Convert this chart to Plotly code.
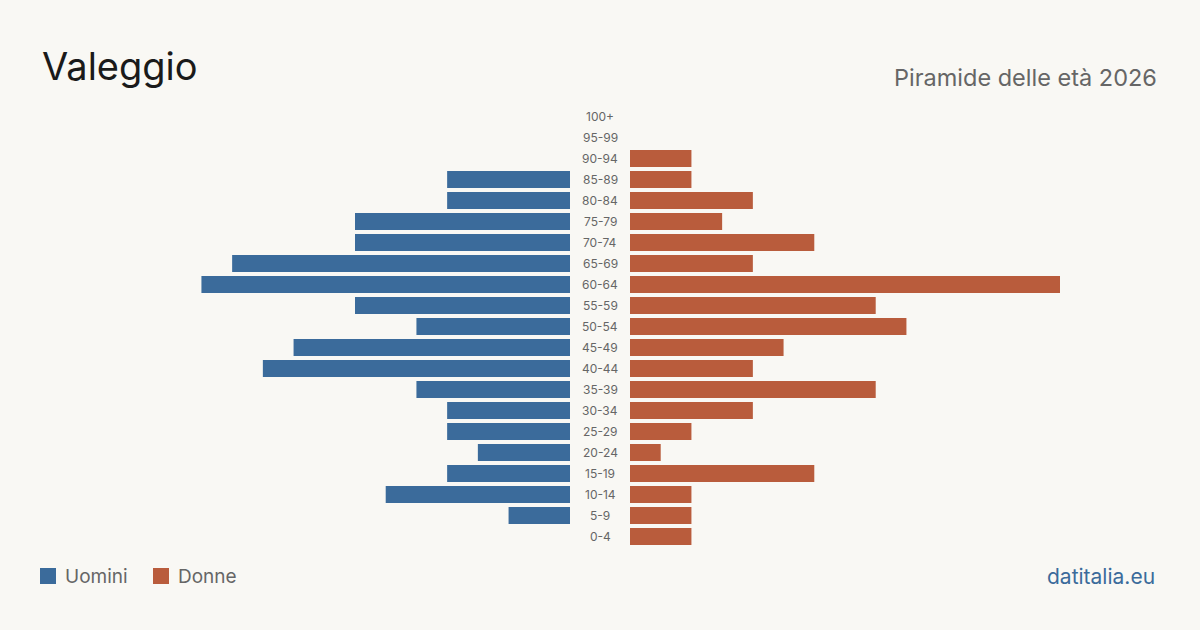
import plotly.graph_objects as go

age_groups = ["0-4", "5-9", "10-14", "15-19", "20-24", "25-29", "30-34", "35-39",
              "40-44", "45-49", "50-54", "55-59", "60-64", "65-69", "70-74",
              "75-79", "80-84", "85-89", "90-94", "95-99", "100+"]
men = [0, 2, 6, 4, 3, 4, 4, 5, 10, 9, 5, 7, 12, 11, 7, 7, 4, 4, 0, 0, 0]
women = [2, 2, 2, 6, 1, 2, 4, 8, 4, 5, 9, 8, 14, 4, 6, 3, 4, 2, 2, 0, 0]

BLUE = "#3b6b9b"
ORANGE = "#b95c3c"
BG = "#f9f8f4"
FONT = "Inter"

xmax = max(max(men), max(women))

fig = go.Figure()
fig.add_trace(go.Bar(y=age_groups, x=men, orientation="h", marker_color=BLUE,
                     marker_line_width=0,
                     xaxis="x", yaxis="y", name="Uomini", showlegend=False,
                     hoverinfo="x+y"))
fig.add_trace(go.Bar(y=age_groups, x=women, orientation="h", marker_color=ORANGE,
                     marker_line_width=0,
                     xaxis="x2", yaxis="y", name="Donne", showlegend=False,
                     hoverinfo="x+y"))

W, H = 1200, 630
top, bottom = 106, 547

fig.update_layout(
    width=W, height=H,
    paper_bgcolor=BG, plot_bgcolor=BG,
    margin=dict(l=0, r=0, t=0, b=0),
    bargap=0.19,
    font=dict(family=FONT),
    xaxis=dict(domain=[140 / W, 570 / W], range=[xmax, 0], visible=False, fixedrange=True),
    xaxis2=dict(domain=[630 / W, 1060 / W], range=[0, xmax], visible=False, fixedrange=True),
    yaxis=dict(domain=[1 - bottom / H, 1 - top / H], visible=False,
               categoryorder="array", categoryarray=age_groups, fixedrange=True),
)

for ag in age_groups:
    fig.add_annotation(x=0.5, xref="paper", y=ag, yref="y", text=ag, showarrow=False,
                       font=dict(size=12, color="#666666", family=FONT),
                       xanchor="center", yanchor="middle")

fig.add_annotation(x=40 / W, y=1 - 66 / H, xref="paper", yref="paper", text="Valeggio",
                   showarrow=False, xanchor="left", yanchor="middle",
                   font=dict(size=38, color="#1a1a1a", family=FONT))
fig.add_annotation(x=1159 / W, y=1 - 77 / H, xref="paper", yref="paper",
                   text="Piramide delle età 2026", showarrow=False,
                   xanchor="right", yanchor="middle",
                   font=dict(size=23.5, color="#666666", family=FONT))

# legend
fig.add_shape(type="rect", xref="paper", yref="paper",
              x0=40 / W, x1=56 / W, y0=1 - 584 / H, y1=1 - 568 / H,
              fillcolor=BLUE, line_width=0)
fig.add_annotation(x=63 / W, y=1 - 576 / H, xref="paper", yref="paper", text="Uomini",
                   showarrow=False, xanchor="left", yanchor="middle",
                   font=dict(size=19, color="#666666", family=FONT))
fig.add_shape(type="rect", xref="paper", yref="paper",
              x0=153 / W, x1=169 / W, y0=1 - 584 / H, y1=1 - 568 / H,
              fillcolor=ORANGE, line_width=0)
fig.add_annotation(x=176 / W, y=1 - 576 / H, xref="paper", yref="paper", text="Donne",
                   showarrow=False, xanchor="left", yanchor="middle",
                   font=dict(size=19, color="#666666", family=FONT))
fig.add_annotation(x=1157 / W, y=1 - 576 / H, xref="paper", yref="paper", text="datitalia.eu",
                   showarrow=False, xanchor="right", yanchor="middle",
                   font=dict(size=21, color="#3b6b9b", family=FONT))

fig.write_html("out.html", config={"displayModeBar": False})
